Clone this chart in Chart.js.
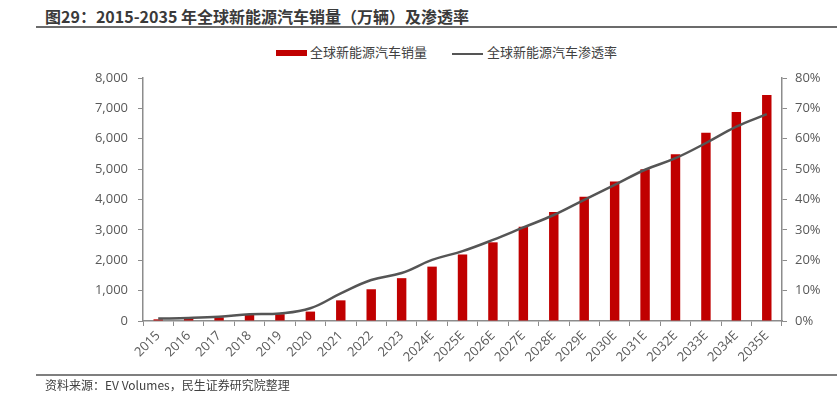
<!DOCTYPE html>
<html>
<head>
<meta charset="utf-8">
<script src="https://cdn.jsdelivr.net/npm/chart.js"></script>
<style>
  html, body { margin: 0; padding: 0; background: #fff; }
  body { width: 837px; height: 404px; position: relative; overflow: hidden;
         font-family: "Noto Sans CJK SC", "Noto Sans", sans-serif; }
  #title { position: absolute; left: 45px; top: 5px; font-size: 16px; font-weight: bold; color: #3a3a3a; line-height: 22px; }
  #titleLine { position: absolute; left: 36px; right: 0; top: 26px; height: 2px; background: #6b6b6b; }
  #footLine { position: absolute; left: 36px; right: 0; top: 374px; height: 1.5px; background: #7f7f7f; }
  #foot { position: absolute; left: 45px; top: 377px; font-size: 12px; line-height: 16px; color: #404040; }
  .leg { position: absolute; top: 43px; font-size: 13px; line-height: 18px; color: #404040; }
  #leg1box { position: absolute; left: 276px; top: 50px; width: 31px; height: 6px; background: #c00000; }
  #leg2line { position: absolute; left: 452px; top: 52.5px; width: 31px; height: 2.5px; background: #555; }
  canvas { position: absolute; left: 0; top: 0; }
</style>
</head>
<body>
<div id="title">图29：2015-2035 年全球新能源汽车销量（万辆）及渗透率</div>
<div id="titleLine"></div>
<div id="leg1box"></div><div class="leg" style="left:310px">全球新能源汽车销量</div>
<div id="leg2line"></div><div class="leg" style="left:487px">全球新能源汽车渗透率</div>
<canvas id="myChart" width="837" height="404"></canvas>
<div id="footLine"></div>
<div id="foot">资料来源：EV Volumes，民生证券研究院整理</div>
<script>
// 数据
const years = ["2015", "2016", "2017", "2018", "2019", "2020", "2021", "2022", "2023",
  "2024E", "2025E", "2026E", "2027E", "2028E", "2029E", "2030E", "2031E", "2032E",
  "2033E", "2034E", "2035E"];
const sales = [55, 70, 120, 210, 225, 310, 680, 1045, 1410, 1790, 2190, 2590, 3100,
  3590, 4090, 4590, 5000, 5490, 6200, 6880, 7440];
const penetration = [0.8, 1.0, 1.4, 2.2, 2.5, 4.2, 9.1, 13.5, 15.8, 20.1, 23.0, 26.7,
  30.8, 34.9, 39.9, 44.8, 49.8, 53.6, 58.6, 64.0, 68.1];
const leftTicks = [0, 1000, 2000, 3000, 4000, 5000, 6000, 7000, 8000];
const rightTicks = [0, 10, 20, 30, 40, 50, 60, 70, 80];

const tickColor = "#595959";
const axisColor = "#8c8c8c";
const tickFont = { family: "'Open Sans', 'Noto Sans', sans-serif", size: 13 };

const ctx = document.getElementById("myChart");

new Chart(ctx, {
  type: "bar",
  data: {
    labels: years,
    datasets: [
      {
        type: "line",
        label: "全球新能源汽车渗透率",
        data: penetration,
        yAxisID: "y1",
        borderColor: "#555555",
        borderWidth: 2.5,
        pointRadius: 0,
        tension: 0.4,
        order: 0,
      },
      {
        label: "全球新能源汽车销量",
        data: sales,
        yAxisID: "y",
        backgroundColor: "#c00000",
        categoryPercentage: 1,
        barPercentage: 0.31,
        order: 1,
      },
    ],
  },
  options: {
    responsive: false,
    animation: false,
    devicePixelRatio: 1,
    layout: { padding: { top: 78, left: 0, right: 0, bottom: 0 } },
    plugins: { legend: { display: false }, tooltip: { enabled: false } },
    scales: {
      x: {
        grid: { display: true, drawOnChartArea: false, tickLength: 5, color: axisColor, offset: true },
        border: { color: axisColor, width: 1.5 },
        ticks: { color: tickColor, font: tickFont, minRotation: 45, maxRotation: 45, padding: 2 },
        afterFit: function (scale) { scale.height = 83; },
      },
      y: {
        position: "left",
        min: 0,
        max: 8000,
        afterBuildTicks: function (scale) { scale.ticks = leftTicks.map(function (v) { return { value: v }; }); },
        grid: { display: true, drawOnChartArea: false, tickLength: 5, color: axisColor },
        border: { color: axisColor, width: 1.5 },
        ticks: {
          color: tickColor, font: tickFont, padding: 10,
          callback: function (v) { return v.toLocaleString("en-US"); },
        },
        afterFit: function (scale) { scale.width = 143; },
      },
      y1: {
        position: "right",
        min: 0,
        max: 80,
        afterBuildTicks: function (scale) { scale.ticks = rightTicks.map(function (v) { return { value: v }; }); },
        grid: { display: true, drawOnChartArea: false, tickLength: 5, color: axisColor },
        border: { color: axisColor, width: 1.5 },
        ticks: {
          color: tickColor, font: tickFont, padding: 8,
          callback: function (v) { return v + "%"; },
        },
        afterFit: function (scale) { scale.width = 55; },
      },
    },
  },
});
</script>
</body>
</html>
